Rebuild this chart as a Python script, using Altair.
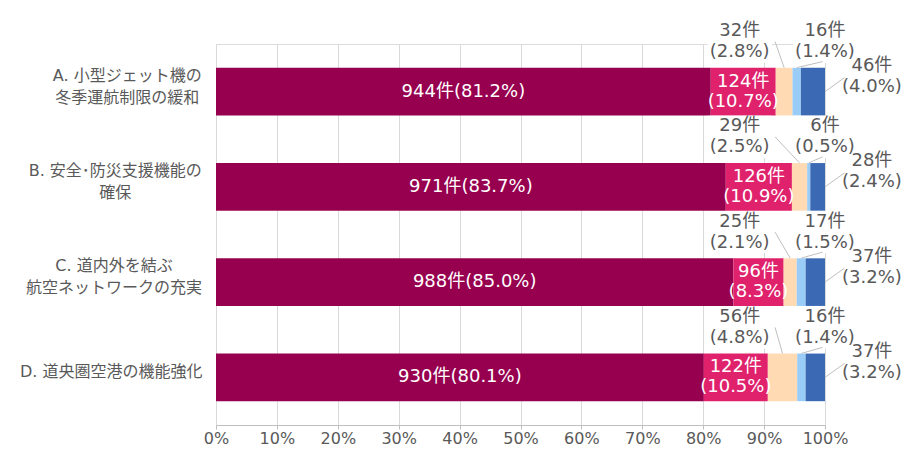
import altair as alt
import pandas as pd

categories = [
    "A. 小型ジェット機の\n冬季運航制限の緩和",
    "B. 安全･防災支援機能の\n確保",
    "C. 道内外を結ぶ\n航空ネットワークの充実",
    "D. 道央圏空港の機能強化",
]
series = ["区分1", "区分2", "区分3", "区分4", "区分5"]
colors = ["#97004F", "#E0226D", "#FFDAB3", "#99CCF7", "#3C69B4"]

counts_1 = [944, 971, 988, 930]
counts_2 = [124, 126, 96, 122]
counts_3 = [32, 29, 25, 56]
counts_4 = [16, 6, 17, 16]
counts_5 = [46, 28, 37, 37]
pct_1 = [81.2, 83.7, 85.0, 80.1]
pct_2 = [10.7, 10.9, 8.3, 10.5]
pct_3 = [2.8, 2.5, 2.1, 4.8]
pct_4 = [1.4, 0.5, 1.5, 1.4]
pct_5 = [4.0, 2.4, 3.2, 3.2]
x_ticks = [0, 0.1, 0.2, 0.3, 0.4, 0.5, 0.6, 0.7, 0.8, 0.9, 1.0]

counts = [counts_1, counts_2, counts_3, counts_4, counts_5]
pcts = [pct_1, pct_2, pct_3, pct_4, pct_5]

PLOT_W = 609
PLOT_H = 381
FONT = "DejaVu Sans, Noto Sans CJK JP"
GRAY = "#595959"
LINE = "#BFBFBF"

rows = []
for i, cat in enumerate(categories):
    total = sum(c[i] for c in counts)
    cum = 0
    for j, s in enumerate(series):
        c = counts[j][i]
        p = pcts[j][i]
        start = cum / total
        cum += c
        end = cum / total
        if j == 0:
            lab = f"{c}件({p:.1f}%)"
        else:
            lab = f"{c}件\n({p:.1f}%)"
        rows.append(dict(cat=cat, series=s, start=start, end=end,
                         mid=(start + end) / 2, label=lab))
df = pd.DataFrame(rows)


def text_width(line, fs=16):
    w = 0
    for ch in line:
        if ch in "ABCD":
            w += 0.7 * fs
        elif ch in ". ":
            w += 0.32 * fs
        elif ch == "･":
            w += 0.5 * fs
        else:
            w += fs
    return w


cat_rows = []
for cat in categories:
    lines = cat.split("\n")
    bw = max(text_width(l) for l in lines)
    cat_rows.append(dict(cat=cat, nlines=len(lines),
                         labx=(-14 - bw / 2) / PLOT_W))
df_cat = pd.DataFrame(cat_rows)

xs = alt.Scale(domain=[0, 1], nice=False, zero=False)
y = alt.Y("cat:N", sort=categories, axis=None,
          scale=alt.Scale(paddingInner=0.5, paddingOuter=0.25))

base = alt.Chart(df)

bars = base.mark_bar().encode(
    x=alt.X("start:Q", scale=xs, title=None,
            axis=alt.Axis(values=x_ticks, format=".0%", grid=True,
                          gridColor="#D9D9D9", domainColor=LINE,
                          tickColor=LINE, tickSize=4, labelFontSize=16,
                          labelColor=GRAY, labelFont=FONT, labelPadding=1,
                          labelOverlap=False, labelFlush=False)),
    x2="end:Q",
    y=y,
    color=alt.Color("series:N", scale=alt.Scale(domain=series, range=colors),
                    legend=None),
)


def sel(name):
    return base.transform_filter(alt.datum.series == name)


lab1 = sel("区分1").mark_text(color="white", fontSize=18, font=FONT).encode(
    x=alt.X("mid:Q", title=None), y=y, text="label:N")
lab2 = sel("区分2").mark_text(color="white", fontSize=18, font=FONT,
                              lineBreak="\n", lineHeight=20, dy=-10).encode(
    x=alt.X("mid:Q", title=None), y=y, text="label:N")

box_path = "M-1,-0.66L1,-0.66L1,0.66L-1,0.66Z"
PEACH_X = 0.86
LB_X = 1.0
BLUE_X = 1.077
TOP_OFF = -50
BLUE_OFF = -15

box3 = sel("区分3").mark_point(shape=box_path, filled=True, fill="white",
                               opacity=1, size=4096, strokeWidth=0,
                               yOffset=TOP_OFF).encode(
    x=alt.datum(PEACH_X), y=y)
box4 = sel("区分4").mark_point(shape=box_path, filled=True, fill="white",
                               opacity=1, size=4096, strokeWidth=0,
                               yOffset=TOP_OFF).encode(
    x=alt.datum(LB_X), y=y)

lead3 = sel("区分3").mark_rule(color=LINE, strokeWidth=1, yOffset=-24,
                               y2Offset=TOP_OFF).encode(
    x=alt.X("mid:Q", title=None), x2=alt.datum(PEACH_X + 0.058),
    y=y, y2=alt.Y2("cat:N"))
lead4 = sel("区分4").mark_rule(color=LINE, strokeWidth=1, yOffset=-24,
                               y2Offset=-30).encode(
    x=alt.X("mid:Q", title=None), x2=alt.datum(LB_X - 0.004),
    y=y, y2=alt.Y2("cat:N"))
lead5 = sel("区分5").mark_rule(color=LINE, strokeWidth=1, yOffset=0,
                               y2Offset=-14).encode(
    x=alt.datum(1.0), x2=alt.datum(BLUE_X - 0.045),
    y=y, y2=alt.Y2("cat:N"))

out_style = dict(color=GRAY, fontSize=18, font=FONT, lineBreak="\n",
                 lineHeight=21, dy=-10.5)
lab3 = sel("区分3").mark_text(yOffset=TOP_OFF, **out_style).encode(
    x=alt.datum(PEACH_X), y=y, text="label:N")
lab4 = sel("区分4").mark_text(yOffset=TOP_OFF, **out_style).encode(
    x=alt.datum(LB_X), y=y, text="label:N")
lab5 = sel("区分5").mark_text(yOffset=BLUE_OFF, **out_style).encode(
    x=alt.datum(BLUE_X), y=y, text="label:N")

cat_base = alt.Chart(df_cat)
cat_style = dict(align="center", baseline="middle", lineBreak="\n",
                 lineHeight=22, fontSize=16, color=GRAY, font=FONT,
                 yOffset=-5)
cat_multi = cat_base.transform_filter(alt.datum.nlines > 1).mark_text(
    dy=-11, **cat_style).encode(
    x=alt.X("labx:Q", title=None), y=y, text="cat:N")
cat_single = cat_base.transform_filter(alt.datum.nlines == 1).mark_text(
    **cat_style).encode(
    x=alt.X("labx:Q", title=None), y=y, text="cat:N")

chart = alt.layer(
    bars, lab1, lab2, box3, box4, lead3, lead4, lead5, lab3, lab4, lab5,
    cat_multi, cat_single,
).properties(
    width=PLOT_W, height=PLOT_H,
    autosize=alt.AutoSizeParams(type="none"),
    padding={"left": 208, "top": 36, "right": 79, "bottom": 21},
).configure_view(stroke=None).configure(background="white")

chart.save("out.html", embed_options={"renderer": "svg", "actions": False})
